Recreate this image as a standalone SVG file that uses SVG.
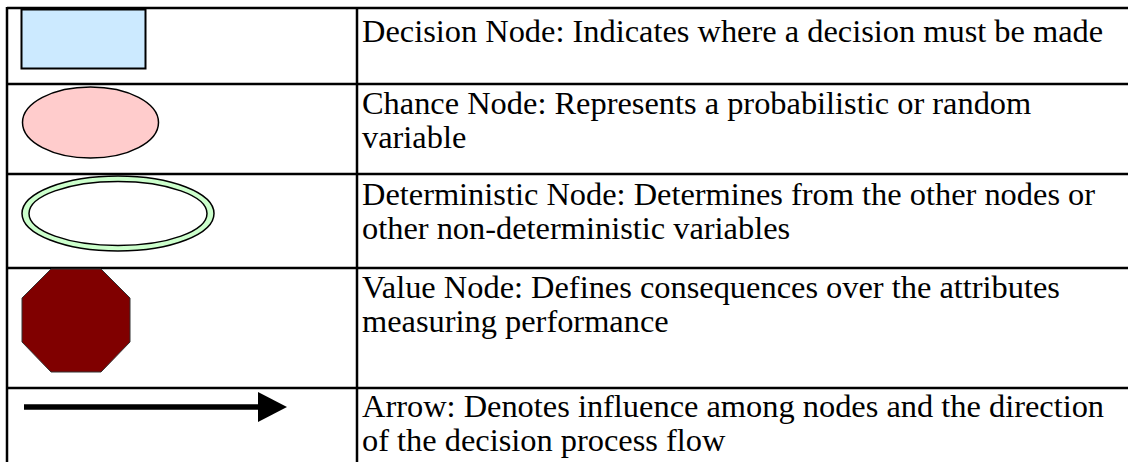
<svg xmlns="http://www.w3.org/2000/svg" width="1128" height="462" viewBox="0 0 1128 462">
  <style>
    .grid { stroke: #000; stroke-width: 2.5; fill: none; }
    .label { font-family: "Liberation Serif", "Times New Roman", serif; font-size: 32.4px; fill: #000; }
  </style>
  <rect x="0" y="0" width="1128" height="462" fill="#fff"/>

  <!-- table rules -->
  <g id="table">
    <line class="grid" x1="7" y1="8" x2="1128" y2="8"/>
    <line class="grid" x1="7" y1="84" x2="1128" y2="84"/>
    <line class="grid" x1="7" y1="174" x2="1128" y2="174"/>
    <line class="grid" x1="7" y1="268" x2="1128" y2="268"/>
    <line class="grid" x1="7" y1="388" x2="1128" y2="388"/>
    <line class="grid" x1="7" y1="7" x2="7" y2="462"/>
    <line class="grid" x1="357" y1="7" x2="357" y2="462"/>
  </g>

  <!-- decision node -->
  <g id="decision-node">
    <rect x="21.5" y="9.5" width="124" height="59" fill="#cceaff" stroke="#000" stroke-width="2"/>
    <text class="label" x="362" y="42">Decision Node: Indicates where a decision must be made</text>
  </g>

  <!-- chance node -->
  <g id="chance-node">
    <ellipse cx="90.5" cy="122.5" rx="68" ry="35.5" fill="#ffcccc" stroke="#000" stroke-width="1.5"/>
    <text class="label" x="362" y="114">Chance Node: Represents a probabilistic or random</text>
    <text class="label" x="362" y="148">variable</text>
  </g>

  <!-- deterministic node: double ellipse -->
  <g id="deterministic-node">
    <ellipse cx="118" cy="213.5" rx="96" ry="37.5" fill="#ccffcc" stroke="#000" stroke-width="1.5"/>
    <ellipse cx="118" cy="213.5" rx="89" ry="32" fill="#fff" stroke="#000" stroke-width="1.5"/>
    <text class="label" x="362" y="205">Deterministic Node: Determines from the other nodes or</text>
    <text class="label" x="362" y="239">other non-deterministic variables</text>
  </g>

  <!-- value node: octagon -->
  <g id="value-node">
    <polygon points="51,269 101,269 130,298 130,342 101,372 51,372 22,342 22,298" fill="#800000" stroke="#333" stroke-width="1"/>
    <text class="label" x="362" y="298">Value Node: Defines consequences over the attributes</text>
    <text class="label" x="362" y="332">measuring performance</text>
  </g>

  <!-- arrow legend -->
  <g id="arrow-legend">
    <line x1="24" y1="407" x2="259" y2="407" stroke="#000" stroke-width="5.5"/>
    <polygon points="258,392 287,407 258,422" fill="#000"/>
    <text class="label" x="362" y="417">Arrow: Denotes influence among nodes and the direction</text>
    <text class="label" x="362" y="451">of the decision process flow</text>
  </g>
</svg>
